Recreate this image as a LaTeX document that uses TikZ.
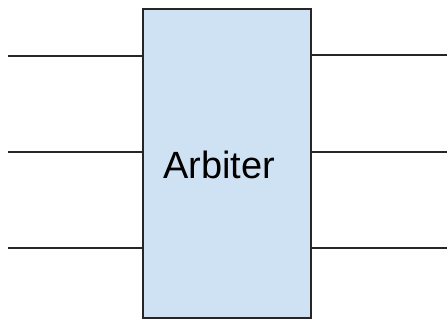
\documentclass[tikz,border=0pt]{standalone}
\usepackage{fontspec}
\setmainfont{Liberation Sans}
\definecolor{blockfill}{HTML}{CFE2F3}
\definecolor{wirecol}{HTML}{262626}

\begin{document}
\begin{tikzpicture}[x=0.025cm, y=-0.025cm,
    block/.style={draw=wirecol, line width=1.4pt, fill=blockfill, minimum width=4.2cm, minimum height=7.73cm, inner sep=0pt},
    wire/.style={draw=wirecol, line width=1.3pt},
    title/.style={font=\fontsize{27}{32}\selectfont, text=black},
]
    \useasboundingbox (0,0) rectangle (447,320);

    % Arbiter block
    \node[block] (arb) at (227,163.75) {};
    \node[title] (arbname) at ([xshift=-0.2cm, yshift=-0.02cm]arb.center) {Arbiter};

    % Inputs on the left
    \foreach \y [count=\i] in {56,152,248} {
        \coordinate (in\i) at (8,\y);
        \draw[wire] (in\i) -- (in\i -| arb.west);
    }

    % Outputs on the right
    \foreach \y [count=\i] in {55,152,248} {
        \coordinate (out\i) at (447,\y);
        \draw[wire] (out\i -| arb.east) -- (out\i);
    }
\end{tikzpicture}
\end{document}
